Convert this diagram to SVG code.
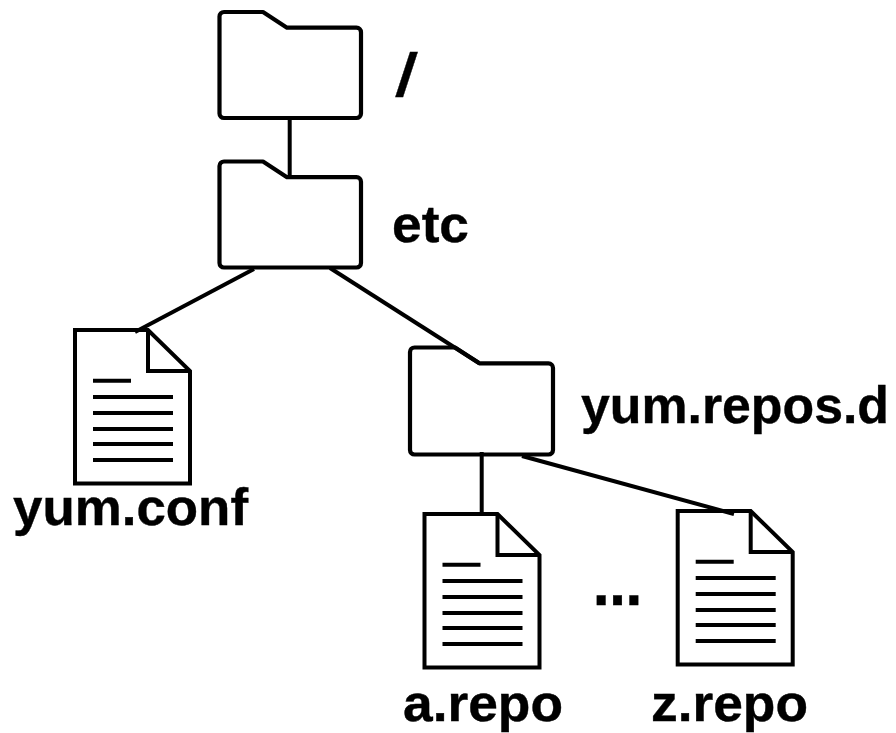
<svg xmlns="http://www.w3.org/2000/svg" width="896" height="733" viewBox="0 0 896 733">
<style>
.s{fill:#fff;stroke:#000;stroke-width:4.200;stroke-linejoin:round}
.d{fill:#fff;stroke:#000;stroke-width:4;stroke-linejoin:miter}
.f{fill:none;stroke:#000;stroke-width:4;stroke-linejoin:miter}
.l{fill:none;stroke:#000;stroke-width:4}
.c{fill:none;stroke:#000;stroke-width:4}
text{font-family:"Liberation Sans",Arial,sans-serif;font-weight:700;font-size:52px;fill:#000;stroke:#000;stroke-width:.4}
</style>
<rect width="896" height="733" fill="#fff"/>
<defs>
<path id="folder" class="s" d="M4.500 0H43.500L67.500 15.700H137A4.500 4.500 0 0 1 141.500 20.200V101.500A4.500 4.500 0 0 1 137 106H4.500A4.500 4.500 0 0 1 0 101.500V4.500A4.500 4.500 0 0 1 4.500 0Z"/>
<g id="doc">
<path class="d" d="M0 0H73L115 41V153.500H0Z"/>
<path class="f" d="M73 0V41H115"/>
<path class="l" d="M18 50.700H56M18 67H98M18 83H98M18 99H98M18 114H98M18 130H98"/>
</g>
</defs>
<g id="folder-root"><use href="#folder" x="219.500" y="12"/><text x="395" y="97" style="font-family:'Noto Sans',sans-serif;font-size:63px" textLength="23" lengthAdjust="spacingAndGlyphs">/</text></g>
<g id="folder-etc"><use href="#folder" x="219.500" y="161.500"/><text x="392" y="241.500" textLength="77" lengthAdjust="spacingAndGlyphs">etc</text></g>
<g id="folder-yum-repos-d"><path class="s" d="M414.500 347.500H455L479.300 363.300H548.500A4.500 4.500 0 0 1 553 367.800V450A4.500 4.500 0 0 1 548.500 454.500H414.500A4.500 4.500 0 0 1 410 450V352A4.500 4.500 0 0 1 414.500 347.500Z"/><text x="581" y="423" textLength="308" lengthAdjust="spacingAndGlyphs">yum.repos.d</text></g>
<g id="file-yum-conf"><use href="#doc" x="75" y="330"/><text x="13" y="525" textLength="235" lengthAdjust="spacingAndGlyphs">yum.conf</text></g>
<g id="file-a-repo"><use href="#doc" x="424.500" y="514"/><text x="403" y="721" textLength="160" lengthAdjust="spacingAndGlyphs">a.repo</text></g>
<g id="file-z-repo"><use href="#doc" x="677.700" y="511"/><text x="651" y="721" textLength="157" lengthAdjust="spacingAndGlyphs">z.repo</text></g>
<text id="ellipsis" x="593" y="605" style="font-family:'DejaVu Sans',sans-serif;font-size:50px" textLength="49" lengthAdjust="spacingAndGlyphs">…</text>
<g id="connectors">
<path class="c" d="M289.700 117V177"/>
<path class="c" d="M254 269L135 332"/>
<path class="c" d="M330 268L479 363"/>
<path class="c" d="M481.700 452V514"/>
<path class="c" d="M522 456L734 514"/>
</g>
</svg>
